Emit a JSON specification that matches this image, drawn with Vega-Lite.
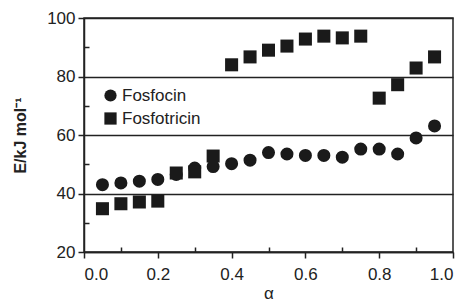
{
  "$schema": "https://vega.github.io/schema/vega-lite/v6.json",
  "width": 369,
  "height": 234,
  "autosize": "none",
  "padding": {"left": 84, "top": 18, "right": 17, "bottom": 55},
  "background": "white",
  "config": {
    "font": "Liberation Sans",
    "view": {"stroke": "#222", "strokeWidth": 1.5},
    "axis": {"labelFont": "Liberation Sans", "titleFont": "Liberation Sans", "labelColor": "#222", "titleColor": "#222", "domainColor": "#222", "tickColor": "#222"}
  },
  "data": {"values": [
    {"a": 0.05, "E": 43.0, "s": "Fosfocin"},
    {"a": 0.10, "E": 43.6, "s": "Fosfocin"},
    {"a": 0.15, "E": 44.2, "s": "Fosfocin"},
    {"a": 0.20, "E": 44.8, "s": "Fosfocin"},
    {"a": 0.25, "E": 46.5, "s": "Fosfocin"},
    {"a": 0.30, "E": 48.7, "s": "Fosfocin"},
    {"a": 0.35, "E": 49.2, "s": "Fosfocin"},
    {"a": 0.40, "E": 50.2, "s": "Fosfocin"},
    {"a": 0.45, "E": 51.4, "s": "Fosfocin"},
    {"a": 0.50, "E": 54.0, "s": "Fosfocin"},
    {"a": 0.55, "E": 53.5, "s": "Fosfocin"},
    {"a": 0.60, "E": 53.0, "s": "Fosfocin"},
    {"a": 0.65, "E": 53.0, "s": "Fosfocin"},
    {"a": 0.70, "E": 52.4, "s": "Fosfocin"},
    {"a": 0.75, "E": 55.2, "s": "Fosfocin"},
    {"a": 0.80, "E": 55.2, "s": "Fosfocin"},
    {"a": 0.85, "E": 53.5, "s": "Fosfocin"},
    {"a": 0.90, "E": 59.0, "s": "Fosfocin"},
    {"a": 0.95, "E": 63.1, "s": "Fosfocin"},
    {"a": 0.05, "E": 34.8, "s": "Fosfotricin"},
    {"a": 0.10, "E": 36.5, "s": "Fosfotricin"},
    {"a": 0.15, "E": 37.1, "s": "Fosfotricin"},
    {"a": 0.20, "E": 37.4, "s": "Fosfotricin"},
    {"a": 0.25, "E": 47.0, "s": "Fosfotricin"},
    {"a": 0.30, "E": 47.4, "s": "Fosfotricin"},
    {"a": 0.35, "E": 52.8, "s": "Fosfotricin"},
    {"a": 0.40, "E": 84.0, "s": "Fosfotricin"},
    {"a": 0.45, "E": 86.7, "s": "Fosfotricin"},
    {"a": 0.50, "E": 89.0, "s": "Fosfotricin"},
    {"a": 0.55, "E": 90.4, "s": "Fosfotricin"},
    {"a": 0.60, "E": 92.8, "s": "Fosfotricin"},
    {"a": 0.65, "E": 93.8, "s": "Fosfotricin"},
    {"a": 0.70, "E": 93.2, "s": "Fosfotricin"},
    {"a": 0.75, "E": 93.8, "s": "Fosfotricin"},
    {"a": 0.80, "E": 72.6, "s": "Fosfotricin"},
    {"a": 0.85, "E": 77.2, "s": "Fosfotricin"},
    {"a": 0.90, "E": 82.9, "s": "Fosfotricin"},
    {"a": 0.95, "E": 86.7, "s": "Fosfotricin"}
  ]},
  "layer": [
    {
      "mark": {"type": "point", "filled": true, "opacity": 1, "color": "#1a1a1a"},
      "encoding": {
        "x": {"field": "a", "type": "quantitative", "scale": {"domain": [0, 1], "nice": false, "zero": false},
          "axis": {"title": "α", "titleFontSize": 17, "titleFontWeight": "normal", "titlePadding": 3, "values": [0, 0.2, 0.4, 0.6, 0.8, 1.0], "format": ".1f", "labelFontSize": 17, "labelPadding": 8, "tickSize": 6, "tickWidth": 1.5, "domainWidth": 1.5, "grid": false}},
        "y": {"field": "E", "type": "quantitative", "scale": {"domain": [20, 100], "nice": false, "zero": false},
          "axis": {"title": "E/kJ mol⁻¹", "titleFontSize": 16, "titleFontWeight": "bold", "titlePadding": 18, "values": [20, 40, 60, 80, 100], "labelFontSize": 17, "labelPadding": 3, "tickSize": 6, "tickWidth": 1.5, "domainWidth": 1.5, "grid": true, "gridColor": "#222", "gridWidth": 1.5, "gridOpacity": 1}},
        "shape": {"field": "s", "type": "nominal", "scale": {"domain": ["Fosfocin", "Fosfotricin"], "range": ["circle", "square"]},
          "legend": {"title": null, "orient": "none", "legendX": 18, "legendY": 69, "labelFontSize": 17, "labelColor": "#222", "symbolSize": 150, "symbolFillColor": "#1a1a1a", "symbolStrokeColor": "#1a1a1a", "symbolType": "circle", "rowPadding": 4, "labelOffset": 3}},
        "size": {"value": 170}
      }
    },
    {
      "mark": {"type": "point", "opacity": 0},
      "encoding": {
        "x": {"field": "a", "type": "quantitative",
          "axis": {"title": null, "orient": "bottom", "offset": 0, "values": [0.1, 0.3, 0.5, 0.7, 0.9], "labels": false, "domain": false, "tickSize": -5, "tickWidth": 1.5, "grid": false}},
        "y": {"field": "E", "type": "quantitative",
          "axis": {"title": null, "orient": "left", "offset": 0, "values": [30, 50, 70, 90], "labels": false, "domain": false, "tickSize": -5, "tickWidth": 1.5, "grid": false}}
      }
    }
  ],
  "resolve": {"axis": {"x": "independent", "y": "independent"}}
}
